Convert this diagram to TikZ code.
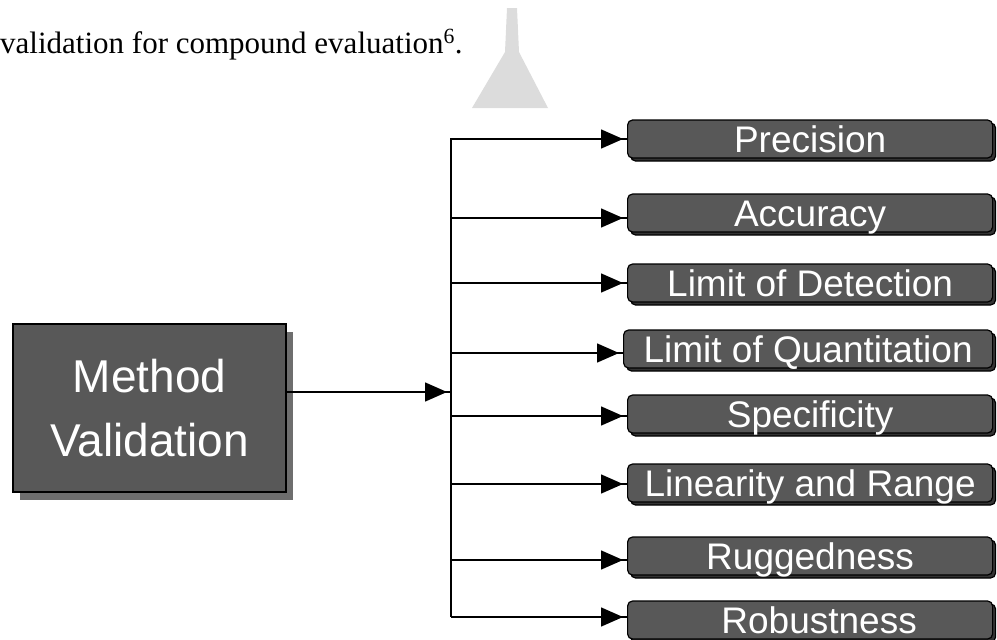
\documentclass[tikz,border=0pt]{standalone}
\usepackage{fontspec}
\setmainfont{Liberation Serif}
\newfontfamily\boxfont{Liberation Sans}
\usetikzlibrary{arrows.meta,shadows}
\definecolor{boxgray}{HTML}{585858}
\definecolor{shadowgray}{HTML}{6E6E6E}
\definecolor{markgray}{HTML}{DCDCDC}
\begin{document}
\begin{tikzpicture}[x=1pt,y=-1pt,
  mainbox/.style={draw=black,line width=1.2pt,fill=boxgray,text=white,
    minimum width=273pt,minimum height=168pt,align=center,inner sep=0pt,
    font=\boxfont\fontsize{46}{64}\selectfont,
    general shadow={shadow xshift=7pt,shadow yshift=-8pt,fill=shadowgray}},
  itembox/.style={draw=black,line width=1.2pt,fill=boxgray,text=white,
    rounded corners=5pt,minimum height=38pt,inner sep=0pt,anchor=west,
    text height=26.5pt,text depth=0pt,
    font=\boxfont\fontsize{37}{40}\selectfont,
    copy shadow={shadow xshift=3pt,shadow yshift=-3pt,fill=black!80,draw=black}},
  conn/.style={line width=1.5pt},
  arr/.style={conn,postaction={draw,-{Triangle[length=22pt,width=19pt]},shorten >=4pt}}]
\useasboundingbox (0,0) rectangle (997,640);

% header text fragment
\node[anchor=base west,inner sep=0pt,font=\fontsize{31}{36}\selectfont] (hdr) at (0,53)
  {validation for compound evaluation\textsuperscript{6}.};
% faint gray mark
\fill[markgray] (507,8) -- (517,8) -- (519,52) -- (548,108) -- (472,108) -- (505,52) -- cycle;

% main box
\node[mainbox] (mv) at (149.5,408) {Method\\Validation};

% bus
\coordinate (bt) at (451,138);
\coordinate (bb) at (451,617);
\coordinate (j) at (451,392);
\draw[conn] (bt) -- (bb);
\draw[arr] (mv.east |- j) -- (j);

% items: name / box centre y / arrow y / left x / width / label
\foreach \nm/\cy/\ay/\lx/\w/\lab in {
  p1/139/139/627/365/Precision,
  p2/213/218/627/365/Accuracy,
  p3/283/283/627/365/Limit of Detection,
  p4/349/353/623/369/Limit of Quantitation,
  p5/414/416/627/365/Specificity,
  p6/483/484/627/365/Linearity and Range,
  p7/556/560/627/365/Ruggedness,
  p8/620/617/627/365/\hspace*{18pt}Robustness}{
  \node[itembox,minimum width=\w pt] (\nm) at (\lx,\cy) {\lab};
  \coordinate (s\nm) at (451,\ay);
  \draw[arr] (s\nm) -- (s\nm -| \nm.west);
}
\end{tikzpicture}
\end{document}
